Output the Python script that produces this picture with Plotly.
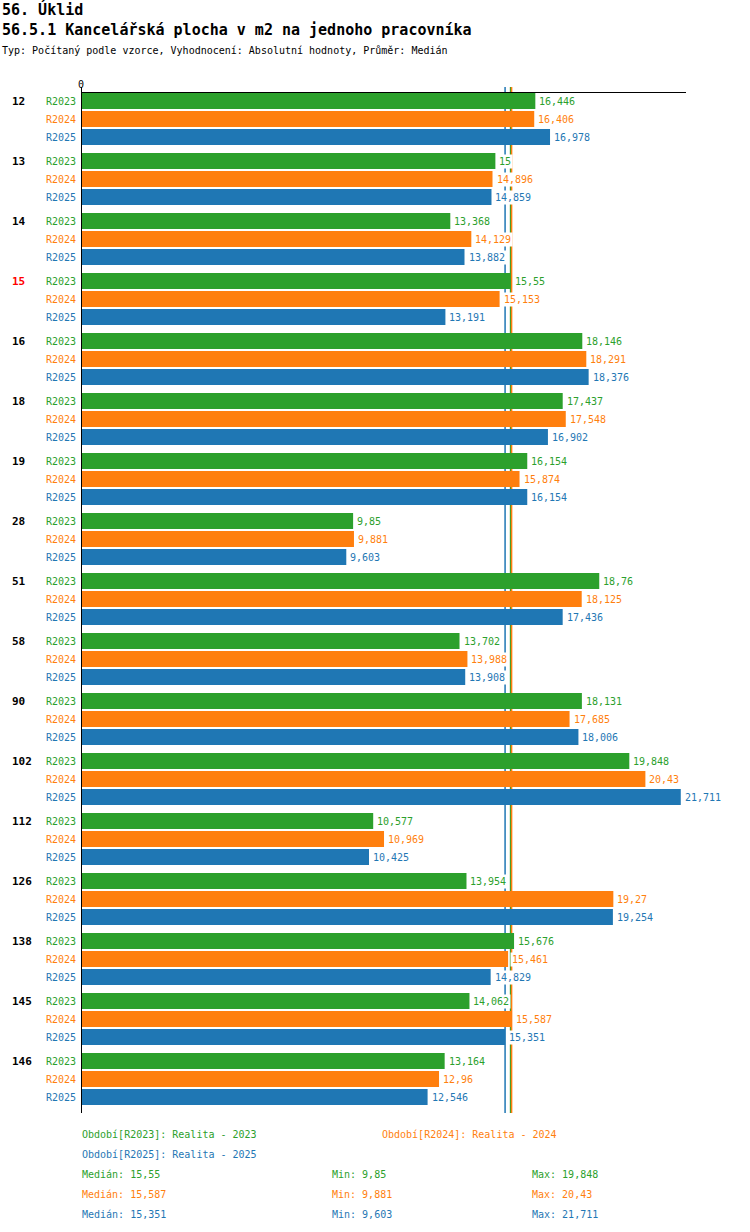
import numpy as np
import plotly.graph_objects as go

categories = ["12", "13", "14", "15", "16", "18", "19", "28", "51", "58",
              "90", "102", "112", "126", "138", "145", "146"]
series_names = ["R2023", "R2024", "R2025"]
r2023 = [16.446, 15, 13.368, 15.55, 18.146, 17.437, 16.154, 9.85, 18.76, 13.702,
         18.131, 19.848, 10.577, 13.954, 15.676, 14.062, 13.164]
r2024 = [16.406, 14.896, 14.129, 15.153, 18.291, 17.548, 15.874, 9.881, 18.125, 13.988,
         17.685, 20.43, 10.969, 19.27, 15.461, 15.587, 12.96]
r2025 = [16.978, 14.859, 13.882, 13.191, 18.376, 16.902, 16.154, 9.603, 17.436, 13.908,
         18.006, 21.711, 10.425, 19.254, 14.829, 15.351, 12.546]
series_values = [r2023, r2024, r2025]
series_desc = ["Realita - 2023", "Realita - 2024", "Realita - 2025"]
highlight_category = "15"

title1 = "56. Úklid"
title2 = "56.5.1 Kancelářská plocha v m2 na jednoho pracovníka"
subtitle = "Typ: Počítaný podle vzorce, Vyhodnocení: Absolutní hodnoty, Průměr: Medián"

colors = ["#2ca02c", "#ff7f0e", "#1f77b4"]
FONT = "DejaVu Sans Mono"

W, H = 750, 1232
L, R, T, B = 81, 64, 93, 119
PW, PH = W - L - R, H - T - B


def fmt(v):
    s = f"{v:.3f}".rstrip("0").rstrip(".")
    return s.replace(".", ",")


def px(x):
    return (x - L) / PW


def py(y):
    return (H - B - y) / PH


fig = go.Figure()
for name, vals, col in zip(series_names, series_values, colors):
    fig.add_trace(go.Bar(
        y=categories, x=vals, name=name, orientation="h",
        marker=dict(color=col, line=dict(width=0)),
        hoverinfo="skip", showlegend=False,
    ))

annotations = []
shapes = []
offsets = [18, 0, -18]

# median lines (below bars)
medians = [float(np.median(v)) for v in series_values]
for idx in [2, 0, 1]:
    shapes.append(dict(type="line", xref="x", yref="paper",
                       x0=medians[idx], x1=medians[idx], y0=0, y1=1 + 6 / PH,
                       line=dict(color=colors[idx], width=1.5), layer="below"))

# left axis line
shapes.append(dict(type="line", xref="x", yref="paper", x0=0, x1=0,
                   y0=0, y1=1 + 6 / PH, line=dict(color="black", width=2), layer="above"))

for k, (name, vals, col) in enumerate(zip(series_names, series_values, colors)):
    for ci, v in enumerate(vals):
        annotations.append(dict(
            x=v, y=ci, xref="x", yref="y", text=fmt(v), showarrow=False,
            xanchor="left", yanchor="middle", xshift=2, yshift=offsets[k],
            bgcolor="white", borderpad=1,
            font=dict(family=FONT, size=10, color=col)))
        annotations.append(dict(
            x=0, y=ci, xref="x", yref="y", text=name, showarrow=False,
            xanchor="right", yanchor="middle", xshift=-3, yshift=offsets[k],
            font=dict(family=FONT, size=10, color=col)))

for ci, cat in enumerate(categories):
    annotations.append(dict(
        x=px(10), y=ci, xref="paper", yref="y", text="<b>" + cat + "</b>",
        showarrow=False, xanchor="left", yanchor="middle", yshift=18,
        font=dict(family=FONT, size=11,
                  color="#ff0000" if cat == highlight_category else "black")))

# titles
annotations.append(dict(x=px(0), y=py(9), xref="paper", yref="paper",
                        text="<b>" + title1 + "</b>", showarrow=False,
                        xanchor="left", yanchor="middle",
                        font=dict(family=FONT, size=15, color="black")))
annotations.append(dict(x=px(0), y=py(30), xref="paper", yref="paper",
                        text="<b>" + title2 + "</b>", showarrow=False,
                        xanchor="left", yanchor="middle",
                        font=dict(family=FONT, size=15, color="black")))
annotations.append(dict(x=px(0), y=py(51), xref="paper", yref="paper",
                        text=subtitle, showarrow=False,
                        xanchor="left", yanchor="middle",
                        font=dict(family=FONT, size=10, color="black")))

# legend / stats text
period_pos = [(80, 1134), (380, 1134), (80, 1154)]
for (lx, ly), name, desc, col in zip(period_pos, series_names, series_desc, colors):
    annotations.append(dict(x=px(lx), y=py(ly), xref="paper", yref="paper",
                            text=f"Období[{name}]: {desc}", showarrow=False,
                            xanchor="left", yanchor="middle",
                            font=dict(family=FONT, size=10, color=col)))
for k, (vals, col) in enumerate(zip(series_values, colors)):
    ly = 1174 + 20 * k
    for lx, lab, val in [(80, "Medián", medians[k]), (330, "Min", min(vals)),
                         (530, "Max", max(vals))]:
        annotations.append(dict(x=px(lx), y=py(ly), xref="paper", yref="paper",
                                text=f"{lab}: {fmt(val)}", showarrow=False,
                                xanchor="left", yanchor="middle",
                                font=dict(family=FONT, size=10, color=col)))

n = len(categories)
fig.update_layout(
    width=W, height=H, autosize=False,
    margin=dict(l=L, r=R, t=T, b=B, pad=0),
    paper_bgcolor="white", plot_bgcolor="white",
    barmode="group", bargap=0.1, bargroupgap=0.111,
    font=dict(family=FONT, size=10, color="black"),
    xaxis=dict(range=[0, 21.9], side="top", showgrid=False, zeroline=False,
               showline=True, linecolor="black", linewidth=1,
               tickvals=[0], ticktext=["0"], ticks="",
               tickfont=dict(family=FONT, size=10, color="black"), fixedrange=True),
    yaxis=dict(type="category", categoryorder="array", categoryarray=categories,
               range=[n - 0.5 + 4 / 60, -0.5 + 4 / 60],
               showgrid=False, zeroline=False, showline=False,
               showticklabels=False, ticks="", fixedrange=True),
    annotations=annotations, shapes=shapes,
)

fig.write_html("out.html", config={"displayModeBar": False},
               post_script="document.body.style.margin='0';document.body.style.padding='0';")
